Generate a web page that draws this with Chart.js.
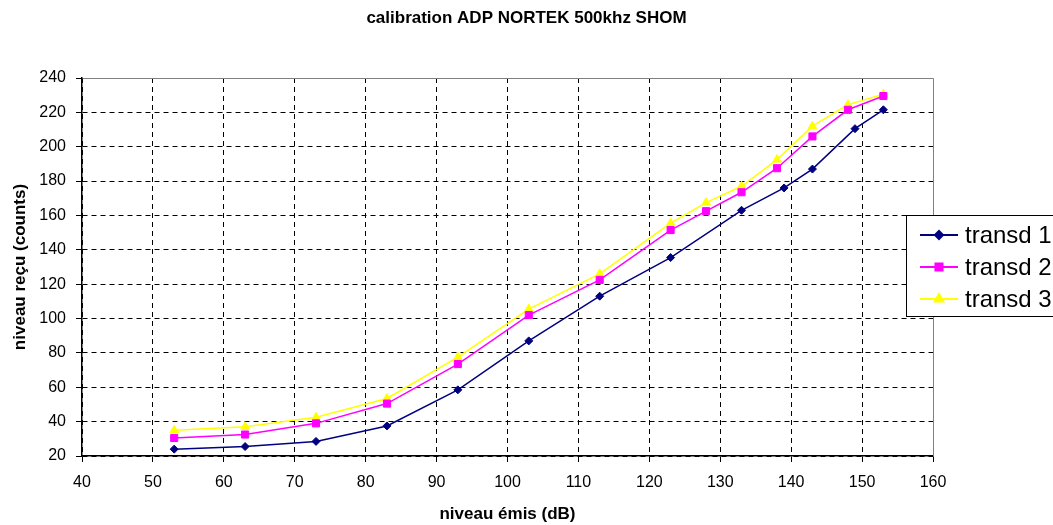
<!DOCTYPE html>
<html>
<head>
<meta charset="utf-8">
<script src="https://cdn.jsdelivr.net/npm/chart.js@4/dist/chart.umd.min.js"></script>
<style>
  html, body { margin: 0; padding: 0; background: #fff; }
  #wrap { width: 1053px; height: 525px; }
</style>
</head>
<body>
<div id="wrap"><canvas id="c" width="1053" height="525"></canvas></div>
<script>
const chartTitle = "calibration ADP NORTEK 500khz SHOM";
const xTitle = "niveau émis (dB)";
const yTitle = "niveau reçu (counts)";
const seriesNames = ["transd 1", "transd 2", "transd 3"];

const xTransd1 = [53, 63, 73, 83, 93, 103, 113, 123, 133, 139, 143, 149, 153];
const yTransd1 = [24, 25.5, 28.5, 37.5, 58.5, 87, 113, 135.5, 163, 176, 187, 210.5, 221.5];

const xTransd2 = [53, 63, 73, 83, 93, 103, 113, 123, 128, 133, 138, 143, 148, 153];
const yTransd2 = [30.5, 32.5, 39, 50.5, 73.5, 102, 122.5, 151.5, 162.5, 173.5, 187.5, 206, 221.5, 229.5];

const xTransd3 = [53, 63, 73, 83, 93, 103, 113, 123, 128, 133, 138, 143, 148, 153];
const yTransd3 = [35, 37, 42.5, 53.5, 77.5, 105.5, 126, 155.5, 167.5, 177, 192.5, 212, 224.5, 230.5];

const xMin = 40, xMax = 160, xStep = 10;
const yMin = 20, yMax = 240, yStep = 20;

const toPts = (xs, ys) => xs.map((x, i) => ({ x: x, y: ys[i] }));
const FONT = "'Liberation Sans', Arial, sans-serif";

const plotBorder = {
  id: 'plotBorder',
  beforeDatasetsDraw(chart) {
    const { ctx, chartArea: a } = chart;
    ctx.save();
    ctx.strokeStyle = '#808080';
    ctx.lineWidth = 1;
    ctx.beginPath();
    ctx.moveTo(Math.round(a.left) + 0.5, Math.round(a.top) + 0.5);
    ctx.lineTo(Math.round(a.right) + 0.5, Math.round(a.top) + 0.5);
    ctx.lineTo(Math.round(a.right) + 0.5, Math.round(a.bottom) + 0.5);
    ctx.stroke();
    ctx.restore();
  }
};

const boxLegend = {
  id: 'boxLegend',
  afterDraw(chart) {
    const ctx = chart.ctx;
    const bx = 906.5, by = 215.5, bw = 200, bh = 101;
    ctx.save();
    ctx.fillStyle = '#fff';
    ctx.fillRect(bx, by, bw, bh);
    ctx.strokeStyle = '#000';
    ctx.lineWidth = 1;
    ctx.strokeRect(bx, by, bw, bh);
    chart.data.datasets.forEach((ds, i) => {
      const y = 235 + i * 32;
      ctx.strokeStyle = ds.borderColor;
      ctx.lineWidth = 2;
      ctx.beginPath();
      ctx.moveTo(920, y);
      ctx.lineTo(958, y);
      ctx.stroke();
      ctx.fillStyle = ds.pointBackgroundColor;
      ctx.strokeStyle = ds.borderColor;
      Chart.helpers.drawPoint(ctx, {
        pointStyle: ds.pointStyle, radius: ds.pointRadius, rotation: 0, borderWidth: 1
      }, 939, y);
      ctx.fillStyle = '#000';
      ctx.font = '24px ' + FONT;
      ctx.textBaseline = 'middle';
      ctx.textAlign = 'left';
      ctx.fillText(ds.label, 965, y + 1);
    });
    ctx.restore();
  }
};

new Chart(document.getElementById('c'), {
  type: 'scatter',
  data: {
    datasets: [
      { label: seriesNames[0], data: toPts(xTransd1, yTransd1), showLine: true,
        borderColor: '#000080', backgroundColor: '#000080', pointBackgroundColor: '#000080',
        borderWidth: 1.5, pointStyle: 'rectRot', pointRadius: 4, pointBorderWidth: 1, tension: 0 },
      { label: seriesNames[1], data: toPts(xTransd2, yTransd2), showLine: true,
        borderColor: '#FF00FF', backgroundColor: '#FF00FF', pointBackgroundColor: '#FF00FF',
        borderWidth: 1.5, pointStyle: 'rect', pointRadius: 5, pointBorderWidth: 1, tension: 0 },
      { label: seriesNames[2], data: toPts(xTransd3, yTransd3), showLine: true,
        borderColor: '#FFFF00', backgroundColor: '#FFFF00', pointBackgroundColor: '#FFFF00',
        borderWidth: 1.5, pointStyle: 'triangle', pointRadius: 5, pointBorderWidth: 1, tension: 0 }
    ]
  },
  options: {
    responsive: false,
    animation: false,
    events: [],
    layout: { padding: 0 },
    plugins: {
      legend: { display: false },
      tooltip: { enabled: false },
      title: {
        display: true, text: chartTitle, color: '#000',
        font: { family: FONT, size: 17, weight: 'bold' },
        padding: { top: 8, bottom: 49.6 }
      }
    },
    scales: {
      x: {
        type: 'linear', min: xMin, max: xMax,
        afterFit(s) { s.height = 69; },
        ticks: { stepSize: xStep, color: '#000', font: { family: FONT, size: 16 }, padding: 11, maxRotation: 0 },
        grid: {
          color: (c) => (c.tick && c.tick.value === xMax) ? 'rgba(0,0,0,0)' : '#000',
          lineWidth: 1, tickColor: '#000', tickLength: 6, tickBorderDash: []
        },
        border: { display: true, color: '#000', width: 1.5, dash: [5, 4] },
        title: { display: true, text: xTitle, color: '#000', font: { family: FONT, size: 17, weight: 'bold' }, padding: { top: 3, bottom: 0 } }
      },
      y: {
        type: 'linear', min: yMin, max: yMax,
        afterFit(s) { s.width = 82; },
        ticks: { stepSize: yStep, color: '#000', font: { family: FONT, size: 16 }, padding: 10 },
        grid: {
          color: (c) => (c.tick && c.tick.value === yMax) ? 'rgba(0,0,0,0)' : '#000',
          lineWidth: 1, tickColor: '#000', tickLength: 6, tickBorderDash: []
        },
        border: { display: true, color: '#000', width: 1.5, dash: [5, 4] },
        title: { display: true, text: yTitle, color: '#000', font: { family: FONT, size: 17, weight: 'bold' }, padding: { top: 10, bottom: 0 } }
      },
      spacer: {
        type: 'linear', position: 'right', display: true,
        afterFit(s) { s.width = 120; },
        ticks: { display: false },
        grid: { display: false, drawTicks: false },
        border: { display: false },
        title: { display: false }
      }
    }
  },
  plugins: [plotBorder, boxLegend]
});
</script>
</body>
</html>
